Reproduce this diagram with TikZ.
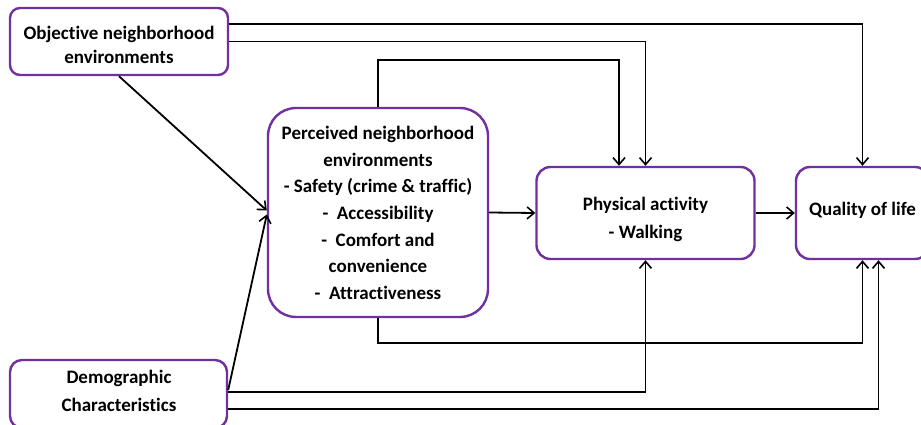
\documentclass[tikz,border=0pt]{standalone}
\usepackage{fontspec}
\setmainfont{Carlito}[Ligatures=NoCommon]
\usetikzlibrary{arrows.meta}
\definecolor{boxpurple}{HTML}{7030A0}
\begin{document}
\begin{tikzpicture}[x=1pt,y=-1pt,
  box/.style={draw=boxpurple,line width=2.4pt,fill=white,rectangle,align=center,inner sep=0pt},
  txt/.style={font=\fontsize{19}{24}\selectfont\bfseries,align=center,inner sep=0pt},
  arr/.style={line width=1.8pt,-{Straight Barb[length=7pt,width=12pt,line width=1.6pt]}}]
\useasboundingbox (0,0) rectangle (921,425);
\clip (0,0) rectangle (921,425);
\coordinate (y24) at (0,24);
\coordinate (y60) at (0,60);
\coordinate (y343) at (0,343);
\coordinate (y390) at (0,390);
\coordinate (y392) at (0,392);
\coordinate (y409) at (0,409);
% boxes
\node[box,minimum width=218pt,minimum height=67pt,rounded corners=10pt] (obj) at (119,41.5) {};
\node[txt] (objtxt) at (119,45) {Objective neighborhood\\environments};
\node[box,minimum width=220pt,minimum height=209pt,rounded corners=28pt] (perc) at (378,212.5) {};
\node[txt,font=\fontsize{19}{26.7}\selectfont\bfseries] (perctxt) at (378,213) {Perceived neighborhood\\environments\\ - Safety (crime \& traffic)\\-\ \ Accessibility\\-\ \ Comfort and\\convenience\\-\ \ Attractiveness};
\node[box,minimum width=218pt,minimum height=92pt,rounded corners=14pt] (pa) at (645.5,213) {};
\node[txt,font=\fontsize{19}{28}\selectfont\bfseries] (patxt) at (645.5,219) {Physical activity\\- Walking};
\node[box,minimum width=133pt,minimum height=92pt,rounded corners=14pt] (qol) at (862.5,213) {};
\node[txt] (qoltxt) at (862.5,210) {Quality of life};
\node[box,minimum width=217pt,minimum height=68pt,rounded corners=12pt] (demo) at (118.5,394) {};
\node[txt,font=\fontsize{19}{28}\selectfont\bfseries] (demotxt) at (119,391) {Demographic\\Characteristics};
% connectors
\draw[arr] (obj.east |- y24) -| (qol.north);
\draw[arr] (obj.east) -| (pa.north);
\draw[arr] (perc.north) -- (perc.north |- y60) -| ([xshift=-26.5pt]pa.north);
\draw[arr] (obj.south) -- ([yshift=2pt]perc.west);
\draw[arr] (demo.east |- y390) -- ([yshift=-2pt]perc.west);
\draw[arr] (perc.east) -- (pa.west);
\draw[arr] (pa.east) -- (qol.west);
\draw[arr] (perc.south) -- (perc.south |- y343) -| (qol.south);
\draw[arr] (demo.east |- y392) -| (pa.south);
\draw[arr] (demo.east |- y409) -| ([xshift=16pt]qol.south);
\end{tikzpicture}
\end{document}
